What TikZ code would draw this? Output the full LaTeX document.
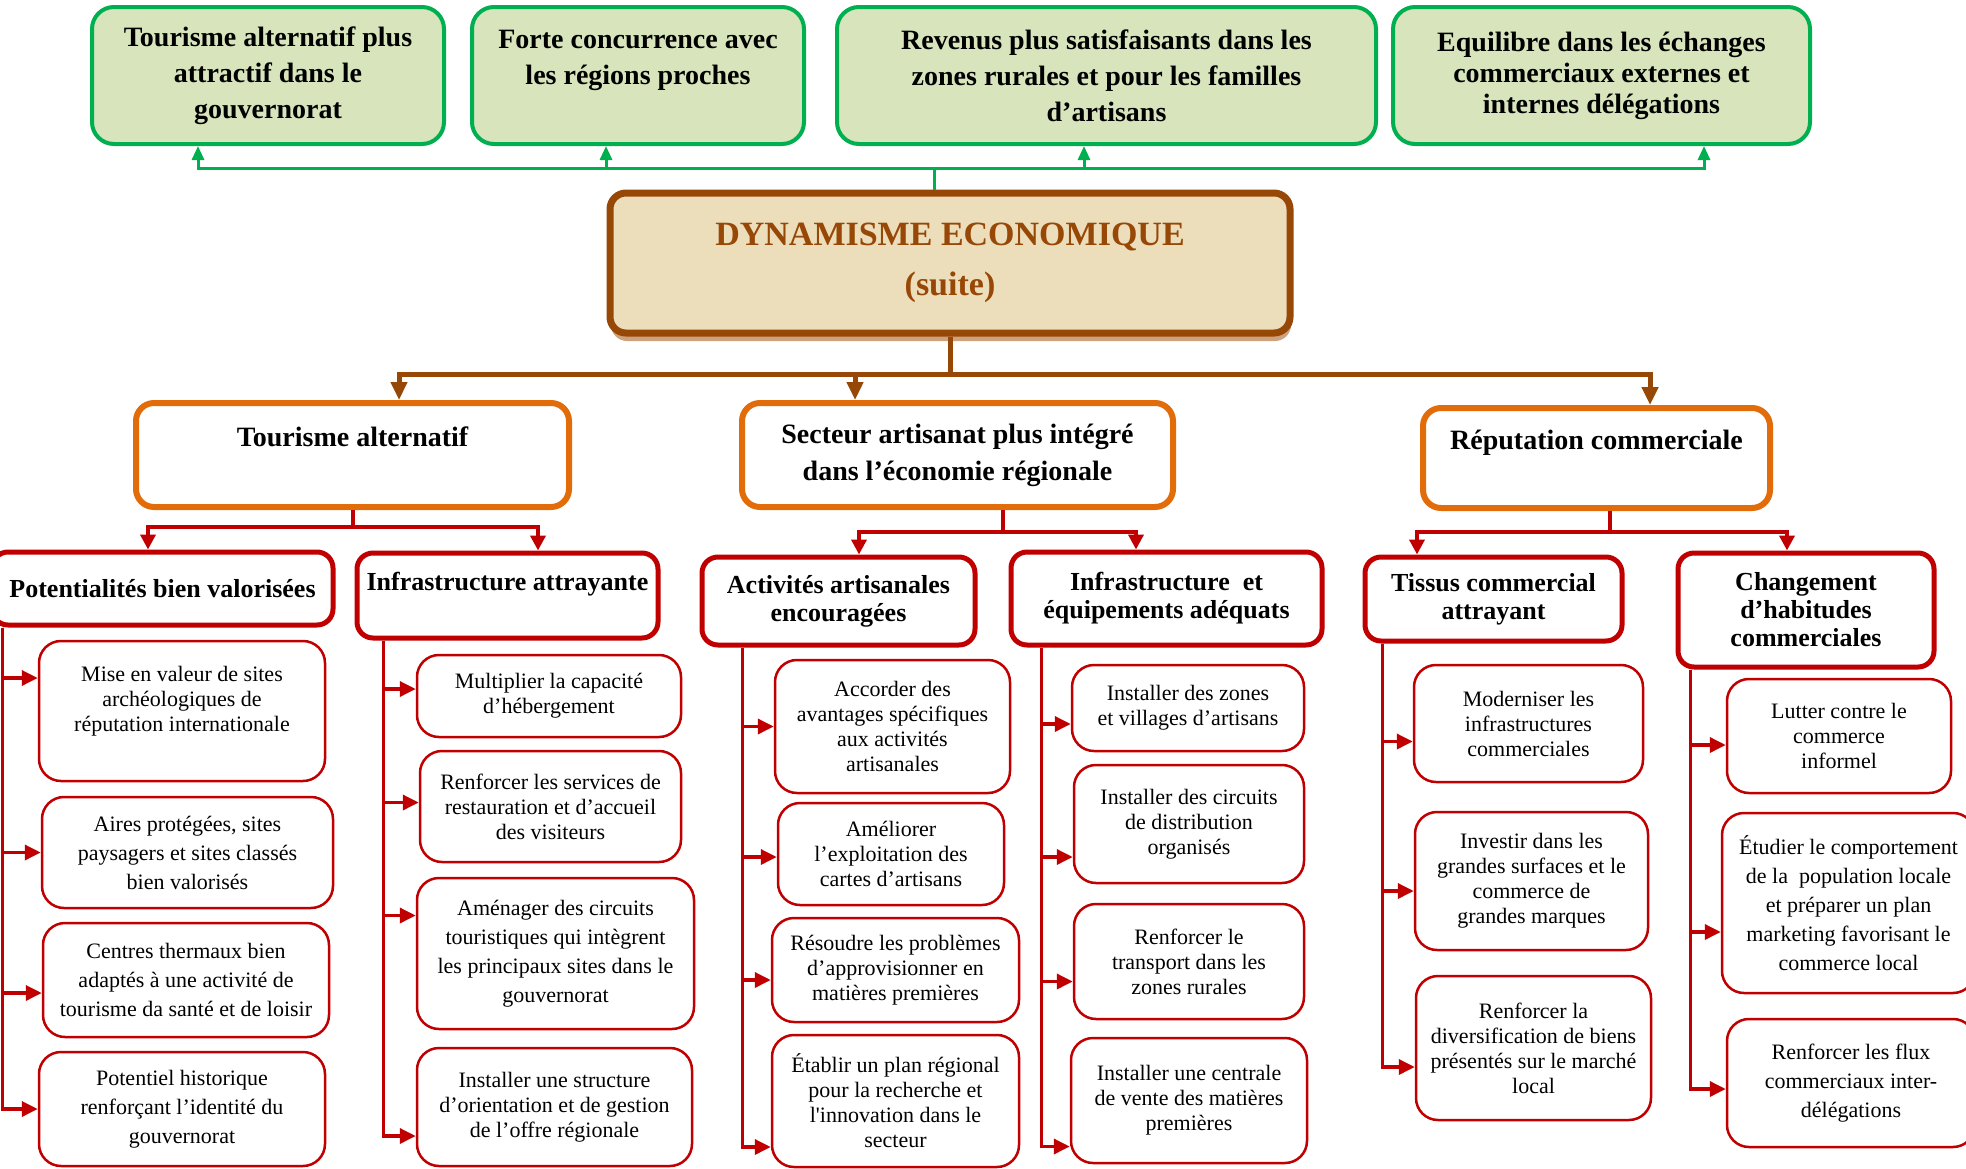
\documentclass[tikz,border=0pt]{standalone}
\usepackage{fontspec}
\setmainfont{Liberation Serif}
\usetikzlibrary{arrows.meta,shadows}

\definecolor{mapgreen}{HTML}{00B050}
\definecolor{mapleaf}{HTML}{D7E4BC}
\definecolor{maporange}{HTML}{E36C0A}
\definecolor{mapred}{HTML}{C00000}
\definecolor{mapbrown}{HTML}{984806}
\definecolor{mapparch}{HTML}{ECDDBB}
\definecolor{mapshade}{HTML}{CDA27E}

\begin{document}
\begin{tikzpicture}[x=1pt,y=-1pt,
  sz/.style 2 args={minimum width=#1,minimum height=#2},
  goalbox/.style={draw=mapgreen,fill=mapleaf,line width=4pt,rounded corners=22pt,align=center,inner sep=2pt,font=\fontsize{28}{36}\selectfont\bfseries},
  dynbox/.style={draw=mapbrown,fill=mapparch,line width=7pt,rounded corners=16pt,align=center,text=mapbrown,
    font=\fontsize{34}{50}\selectfont\bfseries,drop shadow={shadow xshift=1pt,shadow yshift=-8pt,fill=mapshade,opacity=1}},
  themebox/.style={draw=maporange,fill=white,line width=6pt,rounded corners=18pt,align=center,inner sep=2pt,font=\fontsize{28}{37}\selectfont\bfseries},
  pillarbox/.style={draw=mapred,fill=white,line width=5pt,rounded corners=16pt,align=center,inner sep=2pt,font=\fontsize{26}{28}\selectfont\bfseries},
  actbox/.style={draw=mapred,fill=white,line width=2.5pt,rounded corners=22pt,align=center,inner sep=2pt,font=\fontsize{22}{25}\selectfont},
  loose/.style={font=\fontsize{22}{29}\selectfont},
  gline/.style={draw=mapgreen,line width=3pt},
  garrow/.style={gline,-{Triangle[width=12pt,length=14pt]}},
  bline/.style={draw=mapbrown,line width=5pt},
  barrow/.style={bline,-{Triangle[width=16pt,length=18pt]}},
  rline/.style={draw=mapred,line width=4pt},
  rarrow/.style={rline,-{Triangle[width=15pt,length=15pt]}},
  karrow/.style={draw=mapred,line width=3.5pt,-{Triangle[width=15pt,length=16pt]}}]
\useasboundingbox (0,0) rectangle (1966,1168);

% expected effects
\node[goalbox,sz={352}{137}] (g1) at (268,75.5) {Tourisme alternatif plus\\attractif dans le\\gouvernorat};
\node[goalbox,sz={332}{137}] (g2) at (638,75.5) {Forte concurrence avec\\les régions proches\\~};
\node[goalbox,sz={539}{137}] (g3) at (1106.5,75.5) {Revenus plus satisfaisants dans les\\zones rurales et pour les familles\\d’artisans};
\node[goalbox,sz={417}{137},font=\fontsize{28}{31}\selectfont\bfseries] (g4) at (1601.5,75.5) {Equilibre dans les échanges\\commerciaux externes et\\internes délégations};

\node[dynbox,sz={680}{140}] (dyn) at (950,263) {DYNAMISME ECONOMIQUE\\(suite)};

\coordinate (gbus) at (934,168);
\draw[gline] ([xshift=-16]dyn.north) -- (gbus);
\foreach \g/\dx in {g1/-70,g2/-32,g3/-22.5,g4/102.5}
  \draw[garrow] (gbus) -| ([xshift=\dx]\g.south);

% three axes
\node[themebox,sz={433}{104}] (A) at (352.5,455) {Tourisme alternatif\\~};
\node[themebox,sz={431}{104}] (B) at (957.5,455) {Secteur artisanat plus intégré\\dans l’économie régionale};
\node[themebox,sz={347}{100}] (C) at (1596.5,458) {Réputation commerciale\\~};

\coordinate (bbus) at (950,374);
\draw[bline] (dyn.south) -- (bbus);
\foreach \t/\dx in {A/46.5,B/-102.5,C/53.5}
  \draw[barrow] (bbus) -| ([xshift=\dx]\t.north);

\node[pillarbox,sz={341}{73}] (A1) at (162.5,588.5) {Potentialités bien valorisées};
\node[pillarbox,sz={301}{85}] (A2) at (507.5,595.5) {Infrastructure attrayante\\~};
\node[pillarbox,sz={273}{88}] (B1) at (838.5,601) {Activités artisanales\\encouragées};
\node[pillarbox,sz={311}{93}] (B2) at (1166.5,598.5) {Infrastructure~ et\\équipements adéquats};
\node[pillarbox,sz={257}{84}] (C1) at (1493.5,599) {Tissus commercial\\attrayant};
\node[pillarbox,sz={256}{114}] (C2) at (1806,610) {Changement\\d’habitudes\\commerciales};

\coordinate (abus) at (352.5,527);
\coordinate (bbus2) at (1003,532);
\coordinate (cbus) at (1610,532);
\draw[rline] (A.south) -- (abus);
\draw[rline] ([xshift=45.5]B.south) -- (bbus2);
\draw[rline] ([xshift=13.5]C.south) -- (cbus);
\draw[rarrow] (abus) -| ([xshift=-14.5]A1.north);
\draw[rarrow] (abus) -| ([xshift=30.5]A2.north);
\draw[rarrow] (bbus2) -| ([xshift=20.5]B1.north);
\draw[rarrow] (bbus2) -| ([xshift=-30.5]B2.north);
\draw[rarrow] (cbus) -| ([xshift=-76.5]C1.north);
\draw[rarrow] (cbus) -| ([xshift=-19]C2.north);

% actions
\node[actbox,sz={286}{140}] (A1a) at (182,711) {Mise en valeur de sites\\archéologiques de\\réputation internationale\\~};
\node[actbox,loose,sz={291}{111}] (A1b) at (187.5,852.5) {Aires protégées, sites\\paysagers et sites classés\\bien valorisés};
\node[actbox,loose,sz={286}{114}] (A1c) at (186,980) {Centres thermaux bien\\adaptés à une activité de\\tourisme da santé et de loisir};
\node[actbox,loose,sz={286}{114}] (A1d) at (182,1109) {Potentiel historique\\renforçant l’identité du\\gouvernorat};

\node[actbox,sz={264}{82}] (A2a) at (549,696) {Multiplier la capacité\\d’hébergement};
\node[actbox,sz={261}{111}] (A2b) at (550.5,806.5) {Renforcer les services de\\restauration et d’accueil\\des visiteurs};
\node[actbox,loose,sz={277}{151}] (A2c) at (555.5,953.5) {Aménager des circuits\\touristiques qui intègrent\\les principaux sites dans le\\gouvernorat};
\node[actbox,sz={275}{118}] (A2d) at (554.5,1107) {Installer une structure\\d’orientation et de gestion\\de l’offre régionale};

\node[actbox,sz={235}{133}] (B1a) at (892.5,726.5) {Accorder des\\avantages spécifiques\\aux activités\\artisanales};
\node[actbox,sz={226}{102}] (B1b) at (891,854) {Améliorer\\l’exploitation des\\cartes d’artisans};
\node[actbox,sz={247}{104}] (B1c) at (895.5,970) {Résoudre les problèmes\\d’approvisionner en\\matières premières};
\node[actbox,sz={247}{132}] (B1d) at (895.5,1101) {Établir un plan régional\\pour la recherche et\\l\textquotesingle innovation dans le\\secteur};

\node[actbox,sz={232}{86}] (B2a) at (1188,708) {Installer des zones\\et villages d’artisans};
\node[actbox,sz={230}{118}] (B2b) at (1189,824) {Installer des circuits\\de distribution\\organisés};
\node[actbox,sz={230}{115}] (B2c) at (1189,961.5) {Renforcer le\\transport dans les\\zones rurales};
\node[actbox,sz={236}{125}] (B2d) at (1189,1100.5) {Installer une centrale\\de vente des matières\\premières};

\node[actbox,sz={229}{117}] (C1a) at (1528.5,723.5) {Moderniser les\\infrastructures\\commerciales};
\node[actbox,sz={233}{138}] (C1b) at (1531.5,881) {Investir dans les\\grandes surfaces et le\\commerce de\\grandes marques};
\node[actbox,sz={235}{144}] (C1c) at (1533.5,1048) {Renforcer la\\diversification de biens\\présentés sur le marché\\local};

\node[actbox,sz={224}{114}] (C2a) at (1839,736) {Lutter contre le\\commerce\\informel};
\node[actbox,loose,sz={253}{180}] (C2b) at (1848.5,903) {Étudier le comportement\\de la~ population locale\\et préparer un plan\\marketing favorisant le\\commerce local};
\node[actbox,loose,sz={248}{128}] (C2c) at (1851,1083) {Renforcer les flux\\commerciaux inter-\\délégations};

\foreach \up/\dx/\kid/\dy in {
  A1/13/A1a/33, A1/13/A1b/0, A1/13/A1c/-13, A1/13/A1d/0,
  A2/29/A2a/7, A2/29/A2b/4, A2/29/A2c/38, A2/29/A2d/-29,
  B1/43/B1a/0, B1/43/B1b/-3, B1/43/B1c/-10, B1/43/B1d/-46,
  B2/33/B2a/-16, B2/33/B2b/-33, B2/33/B2c/-20, B2/33/B2d/-46,
  C1/20/C1a/-18, C1/20/C1b/-10, C1/20/C1c/-19,
  C2/15/C2a/-9, C2/15/C2b/-29, C2/15/C2c/-6}
  \draw[karrow] ([xshift=\dx]\up.south west) |- ([yshift=\dy]\kid.west);
\end{tikzpicture}
\end{document}
